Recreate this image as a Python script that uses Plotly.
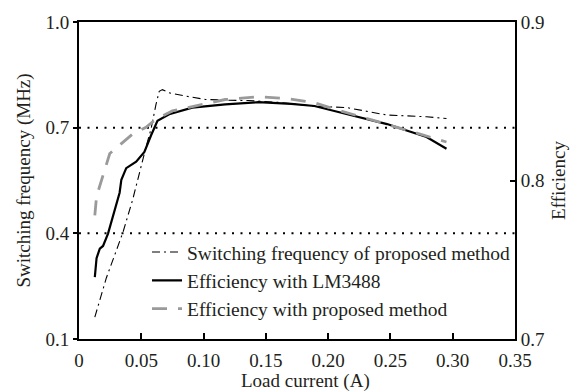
import plotly.graph_objects as go

# Load current (A) and switching frequency (MHz), left axis
freq_x = [0.0127, 0.022, 0.0352, 0.0432, 0.0538, 0.0578, 0.0618, 0.0644, 0.067, 0.0723,
          0.085, 0.1015, 0.120, 0.136, 0.160, 0.189, 0.215, 0.247, 0.279, 0.295]
freq_y = [0.162, 0.274, 0.402, 0.497, 0.645, 0.696, 0.766, 0.803, 0.808, 0.799,
          0.790, 0.780, 0.778, 0.777, 0.772, 0.761, 0.757, 0.736, 0.731, 0.726]

# Efficiency with LM3488, right axis
lm_x = [0.0127, 0.0141, 0.0167, 0.0193, 0.0233, 0.0273, 0.0326, 0.034, 0.0379, 0.0459,
        0.0525, 0.0578, 0.063, 0.0724, 0.0909, 0.1174, 0.1439, 0.1704, 0.189, 0.2154,
        0.2473, 0.263, 0.279, 0.295]
lm_y = [0.739, 0.751, 0.757, 0.7587, 0.7665, 0.778, 0.7923, 0.8005, 0.8078, 0.8119,
        0.818, 0.8284, 0.8377, 0.8418, 0.846, 0.848, 0.8494, 0.8484, 0.847, 0.8418,
        0.8356, 0.8315, 0.8274, 0.820]

# Efficiency with proposed method, right axis
prop_x = [0.0127, 0.0141, 0.0247, 0.0432, 0.0538, 0.0618, 0.075, 0.0936, 0.1174, 0.1439,
          0.1678, 0.189, 0.2101, 0.242, 0.2685, 0.295]
prop_y = [0.778, 0.790, 0.817, 0.8294, 0.8336, 0.8387, 0.8439, 0.847, 0.8511, 0.8528,
          0.8517, 0.849, 0.8439, 0.8367, 0.8305, 0.8243]

x_ticks = [0, 0.05, 0.10, 0.15, 0.20, 0.25, 0.30, 0.35]
x_ticktext = ["0", "0.05", "0.10", "0.15", "0.20", "0.25", "0.30", "0.35"]
left_ticks = [0.1, 0.4, 0.7, 1.0]
right_ticks = [0.7, 0.8, 0.9]
ref_levels = [0.4, 0.7]

FONT = "Liberation Serif, Times New Roman, serif"
TXT = "#231f20"

fig = go.Figure()
fig.add_trace(go.Scatter(x=freq_x, y=freq_y, mode="lines",
                         name="Switching frequency of proposed method",
                         line=dict(color="black", width=1.1, dash="8px,4px,2px,4px"),
                         yaxis="y"))
fig.add_trace(go.Scatter(x=lm_x, y=lm_y, mode="lines", name="Efficiency with LM3488",
                         line=dict(color="black", width=2.2), yaxis="y2"))
fig.add_trace(go.Scatter(x=prop_x, y=prop_y, mode="lines", name="Efficiency with proposed method",
                         line=dict(color="#9a9a9a", width=2.8, dash="15px,11px"), yaxis="y2"))

for lv in ref_levels:
    fig.add_shape(type="line", xref="paper", x0=0, x1=1, yref="y", y0=lv, y1=lv,
                  line=dict(color="black", width=2, dash="2px,6.5px"), layer="below")

fig.add_annotation(text="Load current (A)", xref="paper", yref="paper",
                   x=0.52, y=-0.131, xanchor="center", yanchor="middle", showarrow=False,
                   font=dict(family=FONT, size=19, color=TXT))

fig.update_layout(
    width=578, height=392,
    margin=dict(l=79, r=59, t=16, b=53),
    paper_bgcolor="white", plot_bgcolor="white",
    font=dict(family=FONT, size=19, color=TXT),
    showlegend=True,
    legend=dict(x=0.156, y=0.335, xanchor="left", yanchor="top",
                bgcolor="rgba(0,0,0,0)", borderwidth=0,
                font=dict(family=FONT, size=19.5, color=TXT),
                tracegroupgap=0, itemwidth=30),
    xaxis=dict(range=[0, 0.35], tickvals=x_ticks, ticktext=x_ticktext,
               ticks="inside", ticklen=6, tickwidth=1.5, tickcolor="black",
               ticklabelstandoff=3,
               showline=True, linecolor="black", linewidth=2, mirror=True,
               showgrid=False, zeroline=False),
    yaxis=dict(range=[0.1, 1.0], tickvals=left_ticks, tickformat=".1f",
               ticks="outside", ticklen=4, tickwidth=1.5, tickcolor="black",
               showline=True, linecolor="black", linewidth=2, mirror=True,
               showgrid=False, zeroline=False,
               title=dict(text="Switching frequency (MHz)", standoff=10,
                          font=dict(family=FONT, size=19, color=TXT))),
    yaxis2=dict(range=[0.7, 0.9], tickvals=right_ticks, tickformat=".1f",
                overlaying="y", side="right",
                ticks="inside", ticklen=5, tickwidth=1.5, tickcolor="black",
                showline=True, linecolor="black", linewidth=2,
                showgrid=False, zeroline=False,
                title=dict(text="Efficiency", standoff=8,
                           font=dict(family=FONT, size=19, color=TXT))),
)

fig.write_html("out.html")
